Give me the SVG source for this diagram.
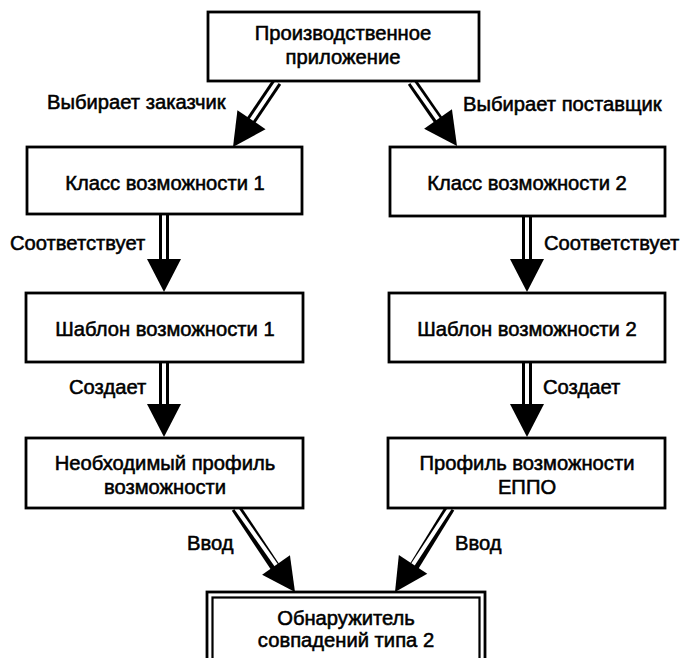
<svg xmlns="http://www.w3.org/2000/svg" xmlns:xlink="http://www.w3.org/1999/xlink" width="681" height="658" viewBox="0 0 681 658">
<style>
.box{fill:#fff;stroke:#000;stroke-width:2.8}
.t{font-family:"Liberation Sans",Arial,sans-serif;font-size:20.2px;fill:#000;text-anchor:middle;stroke:#000;stroke-width:0.55}
.lbl{font-family:"Liberation Sans",Arial,sans-serif;font-size:20.2px;fill:#000;stroke:#000;stroke-width:0.55}
.so{stroke:#000;stroke-width:10;fill:none}
.si{stroke:#fff;stroke-width:4;fill:none}
</style>
<defs>
<path id="head" d="M0,0 L-33,-17 L-33,17 Z" fill="#000"/>
</defs>
<rect width="681" height="658" fill="#fff"/>
<g id="connectors">
  <line class="so" x1="277" y1="82" x2="248" y2="125"/>
  <line class="si" x1="277" y1="82" x2="250" y2="122"/>
  <use xlink:href="#head" transform="translate(233,147) rotate(124.1)"/>
  <line class="so" x1="412" y1="82" x2="441" y2="124"/>
  <line class="si" x1="412" y1="82" x2="439.7" y2="121.5"/>
  <use xlink:href="#head" transform="translate(457,146) rotate(54.9)"/>
  <line class="so" x1="164" y1="214" x2="164" y2="264"/>
  <line class="si" x1="164" y1="214" x2="164" y2="262"/>
  <use xlink:href="#head" transform="translate(164,292) rotate(90)"/>
  <line class="so" x1="527" y1="216" x2="527" y2="264"/>
  <line class="si" x1="527" y1="216" x2="527" y2="262"/>
  <use xlink:href="#head" transform="translate(527,292) rotate(90)"/>
  <line class="so" x1="164" y1="362" x2="164" y2="409"/>
  <line class="si" x1="164" y1="362" x2="164" y2="407"/>
  <use xlink:href="#head" transform="translate(164,437) rotate(90)"/>
  <line class="so" x1="527" y1="362" x2="527" y2="409"/>
  <line class="si" x1="527" y1="362" x2="527" y2="407"/>
  <use xlink:href="#head" transform="translate(527,437) rotate(90)"/>
  <line class="so" x1="236" y1="508" x2="276.5" y2="569"/>
  <line class="si" x1="236" y1="508" x2="277.7" y2="567.4"/>
  <use xlink:href="#head" transform="translate(295,592) rotate(54.9)"/>
  <line class="so" x1="450" y1="508" x2="412.5" y2="569"/>
  <line class="si" x1="450" y1="508" x2="411.4" y2="566.9"/>
  <use xlink:href="#head" transform="translate(395,592) rotate(123.2)"/>
  <text class="lbl" x="47" y="109">Выбирает заказчик</text>
  <text class="lbl" x="463" y="111">Выбирает поставщик</text>
  <text class="lbl" x="10" y="250">Соответствует</text>
  <text class="lbl" x="544" y="250">Соответствует</text>
  <text class="lbl" x="69" y="394">Создает</text>
  <text class="lbl" x="543" y="394">Создает</text>
  <text class="lbl" x="187" y="550">Ввод</text>
  <text class="lbl" x="455" y="550">Ввод</text>
</g>
<g id="n-app">
  <rect class="box" x="208" y="12" width="271" height="69"/>
  <text class="t" x="343" y="40">Производственное</text>
  <text class="t" x="343" y="64">приложение</text>
</g>
<g id="n-class1">
  <rect class="box" x="27" y="147" width="275" height="67"/>
  <text class="t" x="165" y="190">Класс возможности 1</text>
</g>
<g id="n-class2">
  <rect class="box" x="390" y="147" width="275" height="69"/>
  <text class="t" x="527" y="190">Класс возможности 2</text>
</g>
<g id="n-tmpl1">
  <rect class="box" x="26" y="293" width="277" height="69"/>
  <text class="t" x="165" y="336">Шаблон возможности 1</text>
</g>
<g id="n-tmpl2">
  <rect class="box" x="389" y="293" width="276" height="69"/>
  <text class="t" x="527" y="336">Шаблон возможности 2</text>
</g>
<g id="n-req">
  <rect class="box" x="26" y="438" width="277" height="70"/>
  <text class="t" x="165" y="470">Необходимый профиль</text>
  <text class="t" x="165" y="494">возможности</text>
</g>
<g id="n-prof">
  <rect class="box" x="388" y="438" width="277" height="70"/>
  <text class="t" x="527" y="470">Профиль возможности</text>
  <text class="t" x="527" y="494">ЕППО</text>
</g>
<g id="n-match">
  <rect x="207" y="592" width="278" height="80" fill="#fff" stroke="#000" stroke-width="2.8"/>
  <rect x="212.5" y="597.5" width="267" height="70" fill="none" stroke="#000" stroke-width="2.2"/>
  <text class="t" x="346" y="625">Обнаружитель</text>
  <text class="t" x="346" y="647">совпадений типа 2</text>
</g>
</svg>
